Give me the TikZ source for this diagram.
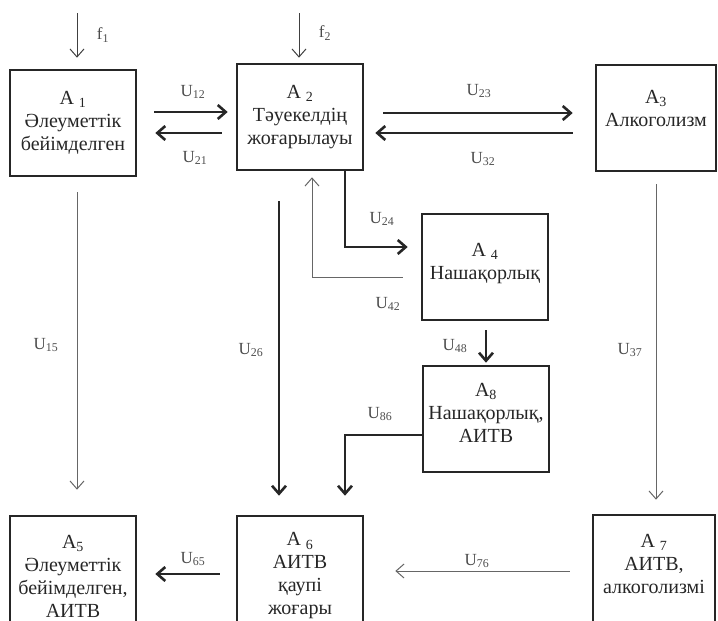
\documentclass[tikz,border=0pt]{standalone}
\usepackage{fontspec}
\setmainfont{Liberation Serif}
\usetikzlibrary{arrows.meta}

\begin{document}
\begin{tikzpicture}[x=1pt,y=-1pt,>={Straight Barb[length=8pt,width=14pt]},
    block/.style={draw=black!85,line width=2.6pt,minimum width=126pt,minimum height=106pt,
      align=center,inner sep=2pt,text=black!85,font=\fontsize{20}{23}\selectfont},
    lbl/.style={text=black!70,font=\fontsize{17}{19}\selectfont,inner sep=0pt},
    flowthin/.style={->,draw=black!60,line width=1pt},
    flow/.style={->,draw=black!85,line width=2.6pt}]

\useasboundingbox (0,0) rectangle (718,621);
\clip (0,0) rectangle (718,621);

\node[block] (A1) at (73,123) {A \textsubscript{1}\\Әлеуметтік\\бейімделген};
\node[block] (A2) at (300,117) {A \textsubscript{2}\\Тәуекелдің\\жоғарылауы};
\node[block,minimum width=120pt] (A3) at (656,118) {A\textsubscript{3}\\Алкоголизм\\[-3pt]\mbox{}};
\node[block] (A4) at (485,267) {A \textsubscript{4}\\Нашақорлық\\[-12pt]\mbox{}};
\node[block] (A8) at (486,419) {A\textsubscript{8}\\Нашақорлық,\\АИТВ\\[-11pt]\mbox{}};
\node[block,minimum height=120pt] (A5) at (73,576) {A\textsubscript{5}\\Әлеуметтік\\бейімделген,\\АИТВ};
\node[block,minimum height=120pt] (A6) at (300,576) {A \textsubscript{6}\\АИТВ\\қаупі\\жоғары};
\node[block,minimum width=122pt,minimum height=120pt] (A7) at (654,575) {A \textsubscript{7}\\АИТВ,\\алкоголизмі\\\mbox{}};

% inputs
\coordinate (f1) at (77,13);
\coordinate (f2) at (299,13);
\draw[flowthin,draw=black!75,shorten >=11pt] (f1) -- (f1 |- A1.north);
\draw[flowthin,draw=black!75,shorten >=5pt] (f2) -- (f2 |- A2.north);
\node[lbl] (lf1) at (103,35) {f\textsubscript{1}};
\node[lbl] (lf2) at (325,33) {f\textsubscript{2}};

% top row
\draw[flow,shorten <=17pt,shorten >=8pt] (A1.east |- 0,112) -- (A2.west |- 0,112);
\draw[flow,shorten <=14pt,shorten >=18pt] (A2.west |- 0,133) -- (A1.east |- 0,133);
\draw[flow,shorten <=19pt,shorten >=22pt] (A2.east |- 0,113) -- (A3.west |- 0,113);
\draw[flow,shorten <=22pt,shorten >=11pt] (A3.west |- 0,133) -- (A2.east |- 0,133);
\node[lbl] (l12) at (193,92) {U\textsubscript{12}};
\node[lbl] (l21) at (195,158) {U\textsubscript{21}};
\node[lbl] (l23) at (479,91) {U\textsubscript{23}};
\node[lbl] (l32) at (483,159) {U\textsubscript{32}};

% middle
\draw[flowthin,shorten <=15pt,shorten >=25pt] (A1.south -| 77,0) -- (A5.north -| 77,0);
\draw[flow,shorten <=30pt,shorten >=19pt] (A2.south -| 279,0) -- (A6.north -| 279,0);
\draw[flow,shorten >=13pt] (A2.south -| 345,0) |- (A4.west |- 0,247);
\draw[flowthin,shorten <=18pt,shorten >=6pt] (A4.west |- 0,277) -| (A2.south -| 312,0);
\draw[flow,shorten <=9pt,shorten >=2pt] (A4.south -| 486,0) -- (A8.north -| 486,0);
\draw[flow,shorten >=19pt] (A8.west |- 0,435) -| (A6.north -| 345,0);
\draw[flowthin,shorten <=12pt,shorten >=14pt] (A3.south -| 656,0) -- (A7.north -| 656,0);
\node[lbl] (l15) at (46,345) {U\textsubscript{15}};
\node[lbl] (l26) at (251,350) {U\textsubscript{26}};
\node[lbl] (l24) at (382,219) {U\textsubscript{24}};
\node[lbl] (l42) at (388,304) {U\textsubscript{42}};
\node[lbl] (l48) at (455,346) {U\textsubscript{48}};
\node[lbl] (l86) at (380,414) {U\textsubscript{86}};
\node[lbl] (l37) at (630,350) {U\textsubscript{37}};

% bottom row
\draw[flow,shorten <=16pt,shorten >=18pt] (A6.west |- 0,574) -- (A5.east |- 0,574);
\draw[flowthin,shorten <=22pt,shorten >=31pt] (A7.west |- 0,571) -- (A6.east |- 0,571);
\node[lbl] (l65) at (193,559) {U\textsubscript{65}};
\node[lbl] (l76) at (477,561) {U\textsubscript{76}};
\end{tikzpicture}
\end{document}
